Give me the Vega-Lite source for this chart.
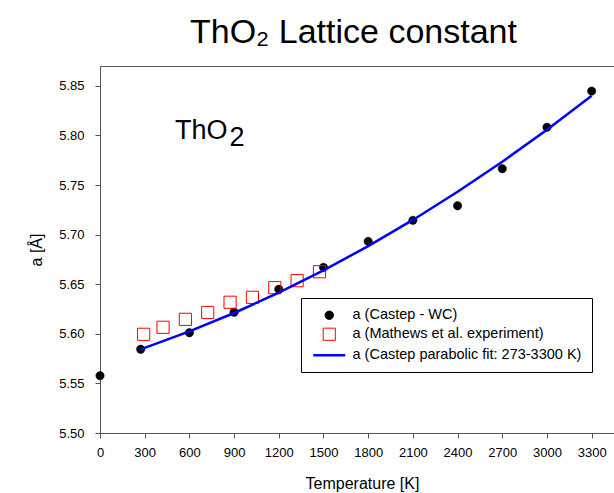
{
  "$schema": "https://vega.github.io/schema/vega-lite/v6.json",
  "width": 524,
  "height": 367,
  "autosize": {"type": "none"},
  "padding": {"left": 100, "top": 66, "right": -10, "bottom": 60},
  "background": "white",
  "title": {
    "text": "ThO₂ Lattice constant",
    "font": "Liberation Sans",
    "fontSize": 34,
    "fontWeight": "normal",
    "color": "#000000",
    "anchor": "start",
    "frame": "group",
    "dx": 90,
    "offset": 16
  },
  "config": {
    "view": {"stroke": "#555555", "strokeWidth": 1},
    "font": "Liberation Sans"
  },
  "datasets": {
    "series": [
      {"series": "a (Castep - WC)", "T": 0, "a": 5.5578},
      {"series": "a (Castep - WC)", "T": 273, "a": 5.5844},
      {"series": "a (Castep - WC)", "T": 600, "a": 5.6011},
      {"series": "a (Castep - WC)", "T": 900, "a": 5.6217},
      {"series": "a (Castep - WC)", "T": 1200, "a": 5.6449},
      {"series": "a (Castep - WC)", "T": 1500, "a": 5.667},
      {"series": "a (Castep - WC)", "T": 1800, "a": 5.6932},
      {"series": "a (Castep - WC)", "T": 2100, "a": 5.7144},
      {"series": "a (Castep - WC)", "T": 2400, "a": 5.7291},
      {"series": "a (Castep - WC)", "T": 2700, "a": 5.7664},
      {"series": "a (Castep - WC)", "T": 3000, "a": 5.8082},
      {"series": "a (Castep - WC)", "T": 3300, "a": 5.8447},
      {"series": "a (Mathews et al. experiment)", "T": 293, "a": 5.5995},
      {"series": "a (Mathews et al. experiment)", "T": 423, "a": 5.6066},
      {"series": "a (Mathews et al. experiment)", "T": 573, "a": 5.6146},
      {"series": "a (Mathews et al. experiment)", "T": 723, "a": 5.6215},
      {"series": "a (Mathews et al. experiment)", "T": 873, "a": 5.6318},
      {"series": "a (Mathews et al. experiment)", "T": 1023, "a": 5.6368},
      {"series": "a (Mathews et al. experiment)", "T": 1173, "a": 5.6465},
      {"series": "a (Mathews et al. experiment)", "T": 1323, "a": 5.6536},
      {"series": "a (Mathews et al. experiment)", "T": 1473, "a": 5.6626},
      {"series": "a (Castep parabolic fit: 273-3300 K)", "T": 273, "a": 5.5844},
      {"series": "a (Castep parabolic fit: 273-3300 K)", "T": 300, "a": 5.5858},
      {"series": "a (Castep parabolic fit: 273-3300 K)", "T": 600, "a": 5.6024},
      {"series": "a (Castep parabolic fit: 273-3300 K)", "T": 900, "a": 5.621},
      {"series": "a (Castep parabolic fit: 273-3300 K)", "T": 1200, "a": 5.6415},
      {"series": "a (Castep parabolic fit: 273-3300 K)", "T": 1500, "a": 5.664},
      {"series": "a (Castep parabolic fit: 273-3300 K)", "T": 1800, "a": 5.6884},
      {"series": "a (Castep parabolic fit: 273-3300 K)", "T": 2100, "a": 5.7148},
      {"series": "a (Castep parabolic fit: 273-3300 K)", "T": 2400, "a": 5.7432},
      {"series": "a (Castep parabolic fit: 273-3300 K)", "T": 2700, "a": 5.7735},
      {"series": "a (Castep parabolic fit: 273-3300 K)", "T": 3000, "a": 5.8058},
      {"series": "a (Castep parabolic fit: 273-3300 K)", "T": 3300, "a": 5.84}
    ],
    "notes": [
      {"label": "ThO", "T": 503, "a": 5.7963},
      {"label": "2", "T": 870, "a": 5.7892}
    ]
  },
  "data": {"name": "series"},
  "encoding": {
    "x": {
      "field": "T",
      "type": "quantitative",
      "scale": {"domain": [0, 3517], "nice": false, "zero": false},
      "axis": {
        "title": "Temperature [K]",
        "values": [0, 300, 600, 900, 1200, 1500, 1800, 2100, 2400, 2700, 3000, 3300],
        "format": "d",
        "grid": false,
        "tickSize": 5,
        "tickColor": "#555555",
        "domainColor": "#555555",
        "labelFontSize": 13,
        "labelColor": "#000000",
        "labelPadding": 8,
        "labelFlush": false,
        "titleFontSize": 16,
        "titleFontWeight": "normal",
        "titleColor": "#000000",
        "titlePadding": 16
      }
    },
    "y": {
      "field": "a",
      "type": "quantitative",
      "scale": {"domain": [5.5, 5.87], "nice": false, "zero": false},
      "axis": {
        "title": "a [Å]",
        "values": [5.5, 5.55, 5.6, 5.65, 5.7, 5.75, 5.8, 5.85],
        "format": ".2f",
        "grid": false,
        "tickSize": 5,
        "tickColor": "#555555",
        "domainColor": "#555555",
        "labelFontSize": 13,
        "labelColor": "#000000",
        "labelPadding": 11,
        "labelFlush": false,
        "titleFontSize": 16,
        "titleFontWeight": "normal",
        "titleColor": "#000000",
        "titlePadding": 14
      }
    }
  },
  "layer": [
    {
      "transform": [{"filter": "datum.series === 'a (Castep - WC)'"}],
      "mark": {"type": "point", "shape": "circle", "size": 70, "filled": true, "fill": "#000000", "opacity": 1, "strokeWidth": 0.5},
      "encoding": {
        "stroke": {
          "field": "series",
          "type": "nominal",
          "scale": {
            "domain": ["a (Castep - WC)", "a (Mathews et al. experiment)", "a (Castep parabolic fit: 273-3300 K)"],
            "range": ["#000000", "#FF0000", "#0000FF"]
          },
          "legend": {
            "title": null,
            "orient": "none",
            "legendX": 201,
            "legendY": 232,
            "strokeColor": "#000000",
            "padding": 10,
            "labelFontSize": 14.5,
            "labelColor": "#000000",
            "labelOffset": 16,
            "symbolOffset": 11,
            "labelLimit": 400,
            "rowPadding": 4,
            "symbolOpacity": 1,
            "encoding": {
              "symbols": {
                "shape": {"value": {"expr": "datum.value === 'a (Castep - WC)' ? 'circle' : datum.value === 'a (Mathews et al. experiment)' ? 'square' : 'stroke'"}},
                "size": {"value": {"expr": "datum.value === 'a (Castep - WC)' ? 70 : datum.value === 'a (Mathews et al. experiment)' ? 148 : 1024"}},
                "fill": {"value": {"expr": "datum.value === 'a (Castep - WC)' ? '#000000' : 'transparent'"}},
                "strokeWidth": {"value": {"expr": "datum.value === 'a (Castep parabolic fit: 273-3300 K)' ? 2.5 : 1"}}
              }
            }
          }
        }
      }
    },
    {
      "transform": [{"filter": "datum.series === 'a (Mathews et al. experiment)'"}],
      "mark": {"type": "point", "shape": "square", "size": 148, "filled": false, "opacity": 1, "strokeWidth": 1},
      "encoding": {"stroke": {"field": "series", "type": "nominal"}}
    },
    {
      "transform": [{"filter": "datum.series === 'a (Castep parabolic fit: 273-3300 K)'"}],
      "mark": {"type": "line", "strokeWidth": 2.5, "opacity": 1},
      "encoding": {"stroke": {"field": "series", "type": "nominal"}}
    },
    {
      "data": {"name": "notes"},
      "mark": {"type": "text", "fontSize": 27, "align": "left", "baseline": "alphabetic", "color": "#000000"},
      "encoding": {
        "text": {"field": "label"}
      }
    }
  ]
}
